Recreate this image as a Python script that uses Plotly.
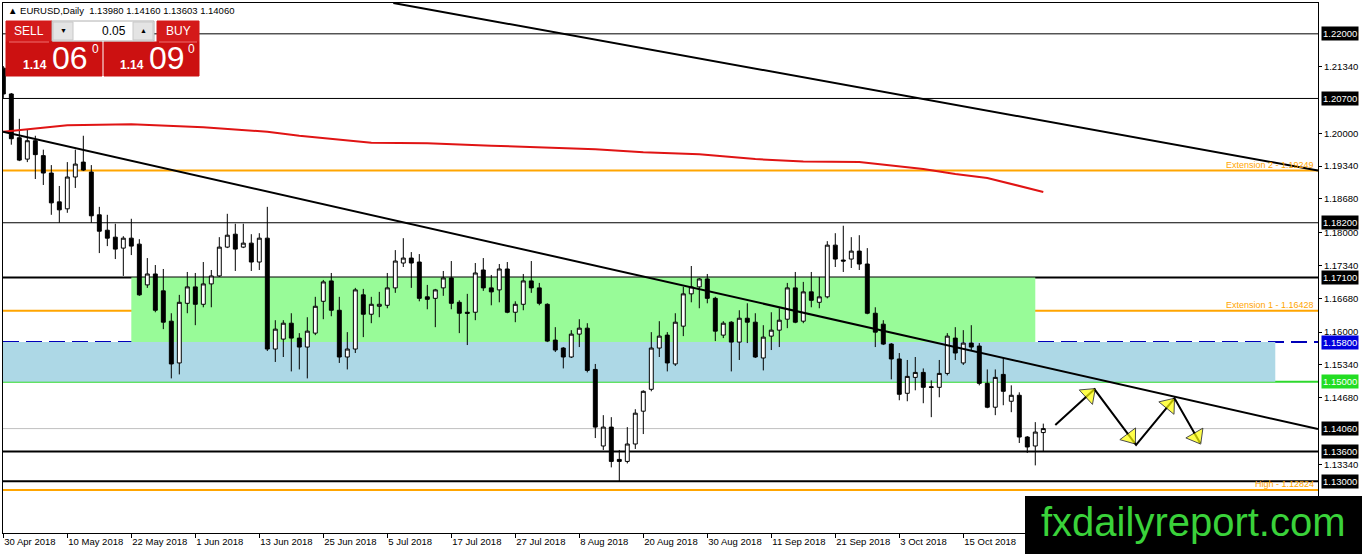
import pandas as pd
import plotly.graph_objects as go

# EURUSD daily candles, 30 Apr 2018 .. 29 Oct 2018 (131 trading days)
dates = pd.bdate_range("2018-04-30", periods=131)

opens = [1.2131, 1.2079, 1.1991, 1.1948, 1.1985, 1.1955, 1.1920, 1.1862, 1.1848, 1.1912,
         1.1942, 1.1922, 1.1836, 1.1805, 1.1791, 1.1769, 1.1789, 1.1777, 1.1695, 1.1717,
         1.1683, 1.1622, 1.1538, 1.1658, 1.1691, 1.1656, 1.1697, 1.1713, 1.1771, 1.1797,
         1.1771, 1.1779, 1.1741, 1.1789, 1.1566, 1.1586, 1.1618, 1.1588, 1.1570, 1.1598,
         1.1662, 1.1703, 1.1644, 1.1550, 1.1566, 1.1675, 1.1636, 1.1652, 1.1654, 1.1689,
         1.1739, 1.1749, 1.1741, 1.1671, 1.1668, 1.1689, 1.1709, 1.1660, 1.1640, 1.1640,
         1.1725, 1.1689, 1.1685, 1.1727, 1.1640, 1.1656, 1.1703, 1.1689, 1.1656, 1.1584,
         1.1568, 1.1550, 1.1596, 1.1608, 1.1525, 1.1371, 1.1409, 1.1344, 1.1340, 1.1375,
         1.1441, 1.1485, 1.1568, 1.1594, 1.1536, 1.1612, 1.1677, 1.1691, 1.1707, 1.1668,
         1.1594, 1.1620, 1.1580, 1.1628, 1.1620, 1.1548, 1.1592, 1.1604, 1.1626, 1.1689,
         1.1622, 1.1681, 1.1660, 1.1671, 1.1775, 1.1745, 1.1747, 1.1763, 1.1737, 1.1638,
         1.1616, 1.1576, 1.1546, 1.1477, 1.1509, 1.1519, 1.1490, 1.1489, 1.1517, 1.1588,
         1.1538, 1.1578, 1.1572, 1.1497, 1.1449, 1.1515, 1.1461, 1.1473, 1.1389, 1.1371,
         1.1398]
highs = [1.2135, 1.2081, 1.2029, 1.2007, 1.1995, 1.1967, 1.1936, 1.1894, 1.1942, 1.1967,
         1.1995, 1.1936, 1.1852, 1.1836, 1.1818, 1.1793, 1.1828, 1.1787, 1.1749, 1.1735,
         1.1727, 1.1638, 1.1675, 1.1721, 1.1719, 1.1741, 1.1725, 1.1791, 1.1838, 1.1818,
         1.1818, 1.1797, 1.1799, 1.1852, 1.1624, 1.1624, 1.1638, 1.1598, 1.1630, 1.1671,
         1.1705, 1.1719, 1.1671, 1.1600, 1.1689, 1.1687, 1.1671, 1.1681, 1.1719, 1.1765,
         1.1789, 1.1761, 1.1757, 1.1695, 1.1687, 1.1723, 1.1743, 1.1664, 1.1677, 1.1739,
         1.1749, 1.1715, 1.1737, 1.1741, 1.1662, 1.1717, 1.1743, 1.1699, 1.1658, 1.1610,
         1.1570, 1.1604, 1.1626, 1.1618, 1.1536, 1.1433, 1.1429, 1.1363, 1.1409, 1.1445,
         1.1483, 1.1600, 1.1622, 1.1600, 1.1638, 1.1691, 1.1733, 1.1709, 1.1717, 1.1671,
         1.1622, 1.1622, 1.1644, 1.1658, 1.1638, 1.1614, 1.1640, 1.1648, 1.1699, 1.1721,
         1.1701, 1.1721, 1.1711, 1.1783, 1.1799, 1.1814, 1.1791, 1.1795, 1.1769, 1.1650,
         1.1624, 1.1578, 1.1558, 1.1544, 1.1550, 1.1527, 1.1503, 1.1544, 1.1598, 1.1610,
         1.1604, 1.1614, 1.1578, 1.1525, 1.1525, 1.1548, 1.1493, 1.1479, 1.1391, 1.1419,
         1.1416]
lows = [1.2071, 1.1977, 1.1944, 1.1942, 1.1908, 1.1896, 1.1836, 1.1820, 1.1840, 1.1890,
        1.1924, 1.1820, 1.1759, 1.1773, 1.1747, 1.1713, 1.1755, 1.1673, 1.1689, 1.1640,
        1.1606, 1.1507, 1.1515, 1.1638, 1.1614, 1.1650, 1.1650, 1.1711, 1.1769, 1.1723,
        1.1769, 1.1723, 1.1725, 1.1562, 1.1540, 1.1550, 1.1521, 1.1525, 1.1507, 1.1594,
        1.1626, 1.1632, 1.1538, 1.1525, 1.1558, 1.1590, 1.1618, 1.1630, 1.1648, 1.1679,
        1.1731, 1.1689, 1.1662, 1.1646, 1.1610, 1.1673, 1.1646, 1.1598, 1.1574, 1.1624,
        1.1683, 1.1654, 1.1660, 1.1638, 1.1620, 1.1644, 1.1679, 1.1654, 1.1580, 1.1560,
        1.1527, 1.1548, 1.1570, 1.1519, 1.1387, 1.1363, 1.1328, 1.1300, 1.1336, 1.1365,
        1.1395, 1.1481, 1.1550, 1.1521, 1.1532, 1.1592, 1.1660, 1.1648, 1.1658, 1.1582,
        1.1588, 1.1521, 1.1544, 1.1578, 1.1548, 1.1523, 1.1564, 1.1570, 1.1608, 1.1618,
        1.1618, 1.1650, 1.1648, 1.1668, 1.1731, 1.1721, 1.1729, 1.1725, 1.1636, 1.1570,
        1.1574, 1.1505, 1.1463, 1.1461, 1.1483, 1.1457, 1.1429, 1.1469, 1.1513, 1.1544,
        1.1534, 1.1564, 1.1493, 1.1447, 1.1433, 1.1453, 1.1439, 1.1377, 1.1357, 1.1332,
        1.13603]
closes = [1.2079, 1.1989, 1.1946, 1.1985, 1.1957, 1.1920, 1.1860, 1.1846, 1.1912, 1.1938,
          1.1926, 1.1834, 1.1803, 1.1789, 1.1767, 1.1789, 1.1773, 1.1675, 1.1717, 1.1644,
          1.1620, 1.1536, 1.1660, 1.1691, 1.1656, 1.1697, 1.1713, 1.1771, 1.1795, 1.1767,
          1.1779, 1.1741, 1.1789, 1.1566, 1.1606, 1.1618, 1.1588, 1.1570, 1.1602, 1.1652,
          1.1701, 1.1644, 1.1550, 1.1566, 1.1685, 1.1636, 1.1656, 1.1656, 1.1689, 1.1743,
          1.1749, 1.1739, 1.1668, 1.1666, 1.1685, 1.1709, 1.1658, 1.1638, 1.1638, 1.1719,
          1.1689, 1.1681, 1.1727, 1.1640, 1.1656, 1.1703, 1.1689, 1.1658, 1.1582, 1.1564,
          1.1550, 1.1596, 1.1608, 1.1523, 1.1409, 1.1409, 1.1340, 1.1340, 1.1375, 1.1437,
          1.1481, 1.1568, 1.1592, 1.1538, 1.1620, 1.1677, 1.1691, 1.1707, 1.1668, 1.1602,
          1.1618, 1.1580, 1.1628, 1.1620, 1.1550, 1.1590, 1.1604, 1.1624, 1.1689, 1.1620,
          1.1681, 1.1664, 1.1671, 1.1775, 1.1747, 1.1743, 1.1763, 1.1737, 1.1638, 1.1600,
          1.1576, 1.1546, 1.1475, 1.1511, 1.1519, 1.1489, 1.1489, 1.1517, 1.1592, 1.1558,
          1.1578, 1.1570, 1.1497, 1.1449, 1.1509, 1.1481, 1.1473, 1.1389, 1.1369, 1.1399,
          1.1406]

# 200-day moving average, read at a few candles
ma_idx = [0, 8, 16, 25, 33, 37, 46, 53, 61, 68, 74, 80, 87, 94, 100, 107, 115, 119, 123, 130]
ma_vals = [1.2003, 1.2016, 1.2018, 1.2012, 1.2003, 1.1995, 1.1981, 1.1980, 1.1975, 1.1971,
           1.1968, 1.1962, 1.1958, 1.1948, 1.1943, 1.1942, 1.1928, 1.1918, 1.1910, 1.1882]

# date labels every 8 candles
tick_idx = list(range(0, 121, 8))
tick_labels = ["30 Apr 2018", "10 May 2018", "22 May 2018", "1 Jun 2018", "13 Jun 2018",
               "25 Jun 2018", "5 Jul 2018", "17 Jul 2018", "27 Jul 2018", "8 Aug 2018",
               "20 Aug 2018", "30 Aug 2018", "11 Sep 2018", "21 Sep 2018", "3 Oct 2018",
               "15 Oct 2018"]

price_ticks = [1.2134, 1.2000, 1.1934, 1.1868, 1.1800, 1.1734, 1.1668, 1.1600,
               1.1534, 1.1468, 1.1334]

# horizontal levels
thin_levels = [1.22, 1.207, 1.182]
thick_levels = [1.171, 1.136, 1.13]
fibo_levels = [1.19249, 1.16428, 1.12824]
fibo_names = ["Extension 2", "Extension 1", "High"]
support_level = 1.15
dashed_level = 1.158
bid_price = 1.1406

boxed_levels = [1.22, 1.207, 1.182, 1.171, 1.158, 1.15, 1.1406, 1.136, 1.13]
boxed_colors = ["black", "black", "black", "black", "#0000dd", "#22dd22", "black", "black", "black"]

# zones (candle index from/to, price from/to)
green_zone = (16, 129, 1.158, 1.171)
blue_zone = (-1, 159, 1.15, 1.158)

# trend lines (candle index, price)
upper_trend = [(48.75, 1.2262), (164.34, 1.1925)]
lower_trend = [(-0.04, 1.2003), (164.34, 1.1405)]

# projected path drawn with arrows
path_x = [131.5, 136.4, 141.6, 146.4, 149.6]
path_y = [1.1413, 1.1485, 1.1373, 1.1467, 1.1377]

W, H = 1362, 554
L, R, T, B = 3, 44, 3, 21


def pxx(x):
    return (x - L) / (W - L - R)


def pxy(y):
    return (H - B - y) / (H - T - B)


idx = list(range(len(dates)))

fig = go.Figure()

fig.add_trace(go.Candlestick(
    x=idx, open=opens, high=highs, low=lows, close=closes,
    increasing=dict(line=dict(color="black", width=1), fillcolor="white"),
    decreasing=dict(line=dict(color="black", width=1), fillcolor="black"),
    whiskerwidth=0, hoverinfo="skip", showlegend=False,
))

fig.add_trace(go.Scatter(
    x=ma_idx, y=ma_vals, mode="lines", line=dict(color="#e01414", width=2),
    hoverinfo="skip", showlegend=False,
))

# arrow path: heads placed just before each turning point
ax, ay, sizes = [path_x[0]], [path_y[0]], [0]
for k in range(1, len(path_x)):
    ax.append(path_x[k - 1] + 0.86 * (path_x[k] - path_x[k - 1]))
    ay.append(path_y[k - 1] + 0.86 * (path_y[k] - path_y[k - 1]))
    sizes.append(17)
    ax.append(path_x[k])
    ay.append(path_y[k])
    sizes.append(0)
fig.add_trace(go.Scatter(
    x=ax, y=ay, mode="lines+markers", line=dict(color="black", width=2),
    marker=dict(symbol="triangle-up", size=sizes, color="#ffff00", angleref="previous",
                line=dict(color="black", width=1)),
    hoverinfo="skip", showlegend=False,
))

shapes = []
shapes.append(dict(type="rect", xref="x", yref="y", x0=blue_zone[0], x1=blue_zone[1],
                   y0=blue_zone[2], y1=blue_zone[3], fillcolor="#add8e6", line_width=0, layer="below"))
shapes.append(dict(type="rect", xref="x", yref="y", x0=green_zone[0], x1=green_zone[1],
                   y0=green_zone[2], y1=green_zone[3], fillcolor="#98fb98", line_width=0, layer="below"))

for lv in thin_levels:
    shapes.append(dict(type="line", xref="paper", yref="y", x0=0, x1=1, y0=lv, y1=lv,
                       line=dict(color="black", width=1), layer="below"))
for lv in thick_levels:
    shapes.append(dict(type="line", xref="paper", yref="y", x0=0, x1=1, y0=lv, y1=lv,
                       line=dict(color="black", width=2), layer="below"))
for lv in fibo_levels:
    shapes.append(dict(type="line", xref="paper", yref="y", x0=0, x1=1, y0=lv, y1=lv,
                       line=dict(color="#ffa500", width=2), layer="below"))
shapes.append(dict(type="line", xref="paper", yref="y", x0=0, x1=1, y0=dashed_level, y1=dashed_level,
                   line=dict(color="#0000b8", width=2, dash="16px,7px"), layer="below"))
shapes.append(dict(type="line", xref="paper", yref="y", x0=0, x1=1, y0=support_level, y1=support_level,
                   line=dict(color="#2ed82e", width=2), layer="below"))
shapes.append(dict(type="line", xref="paper", yref="y", x0=0, x1=1, y0=bid_price, y1=bid_price,
                   line=dict(color="#c0c0c0", width=1), layer="below"))

for tl in (upper_trend, lower_trend):
    shapes.append(dict(type="line", xref="x", yref="y", x0=tl[0][0], y0=tl[0][1],
                       x1=tl[1][0], y1=tl[1][1], line=dict(color="black", width=2)))

# one-click trading panel
red = "#d41a1a"
panel = [
    (6, 21, 52, 42, red, None), (6, 42, 102, 76, "#cc1111", None),
    (157, 21, 199, 42, red, None), (104, 42, 199, 76, "#cc1111", None),
    (52, 21, 154, 41, "white", "#b0b0b0"),
    (53, 22, 73, 40, "#e4e4e4", "#c8c8c8"), (133, 22, 153, 40, "#e4e4e4", "#c8c8c8"),
]
for x0, y0, x1, y1, fc, lc in panel:
    shapes.append(dict(type="rect", xref="paper", yref="paper", x0=pxx(x0), x1=pxx(x1),
                       y0=pxy(y1), y1=pxy(y0), fillcolor=fc,
                       line=dict(color=lc or fc, width=1), layer="above"))
for x0, x1 in ((9, 49), (159, 197)):
    shapes.append(dict(type="line", xref="paper", yref="paper", x0=pxx(x0), x1=pxx(x1),
                       y0=pxy(42), y1=pxy(42), line=dict(color="#f07070", width=1), layer="above"))

# watermark box
shapes.append(dict(type="rect", xref="paper", yref="paper", x0=pxx(1025), x1=pxx(1362),
                   y0=pxy(554), y1=pxy(496), fillcolor="black", line_width=0, layer="above"))

ann = []
for lv, col in zip(boxed_levels, boxed_colors):
    ann.append(dict(xref="paper", yref="y", x=1, y=lv, xanchor="left", yanchor="middle",
                    xshift=3, text=f"{lv:.5f}", showarrow=False, bgcolor=col, borderpad=1,
                    font=dict(color="white", size=9.5, family="Liberation Sans")))
for lv, name in zip(fibo_levels, fibo_names):
    ann.append(dict(xref="paper", yref="y", x=1, y=lv, xanchor="right", yanchor="bottom",
                    xshift=-2, yshift=-1, text=f"{name} - {lv:.5f}", showarrow=False,
                    font=dict(color="#ffa500", size=9, family="Liberation Sans")))

ann.append(dict(xref="paper", yref="paper", x=pxx(6), y=pxy(11), xanchor="left", yanchor="middle",
                text="▲ EURUSD,Daily  1.13980 1.14160 1.13603 1.14060", showarrow=False,
                font=dict(color="black", size=9.5, family="Liberation Sans")))


def txt(x, y, s, size, color="white", anchor="center", bold=False):
    ann.append(dict(xref="paper", yref="paper", x=pxx(x), y=pxy(y), xanchor=anchor,
                    yanchor="middle", text=f"<b>{s}</b>" if bold else s, showarrow=False,
                    font=dict(color=color, size=size, family="Liberation Sans")))


txt(29, 31, "SELL", 12)
txt(178, 31, "BUY", 12)
txt(128, 31, "0.05", 12, "black", "right")
txt(63, 31, "▼", 7, "black")
txt(143, 31, "▲", 7, "black")
txt(35, 65, "1.14", 12, bold=True)
txt(70, 58, "06", 32)
txt(95, 49, "0", 12)
txt(132, 65, "1.14", 12, bold=True)
txt(167, 58, "09", 32)
txt(191, 49, "0", 12)
txt(1193, 522, "fxdailyreport.com", 40, "#3ad23a")

fig.update_layout(
    width=W, height=H, margin=dict(l=L, r=R, t=T, b=B),
    paper_bgcolor="white", plot_bgcolor="white",
    shapes=shapes, annotations=ann, showlegend=False,
    xaxis=dict(range=[-0.04, 164.34], tickvals=tick_idx, ticktext=tick_labels,
               ticks="outside", ticklen=4, tickcolor="black", showgrid=False, zeroline=False,
               showline=True, mirror=True, linecolor="black", linewidth=1,
               ticklabelposition="outside right", rangeslider=dict(visible=False),
               tickfont=dict(size=9.5, color="black", family="Liberation Sans")),
    yaxis=dict(side="right", range=[1.1196, 1.2262], tickvals=price_ticks,
               ticktext=[f"{v:.5f}" for v in price_ticks],
               ticks="outside", ticklen=3, tickcolor="black", showgrid=False, zeroline=False,
               showline=True, mirror=True, linecolor="black", linewidth=1,
               tickfont=dict(size=9.5, color="black", family="Liberation Sans")),
)

fig.write_html("out.html", config={"displayModeBar": False},
               post_script="document.body.style.margin='0';document.body.style.overflow='hidden';")
